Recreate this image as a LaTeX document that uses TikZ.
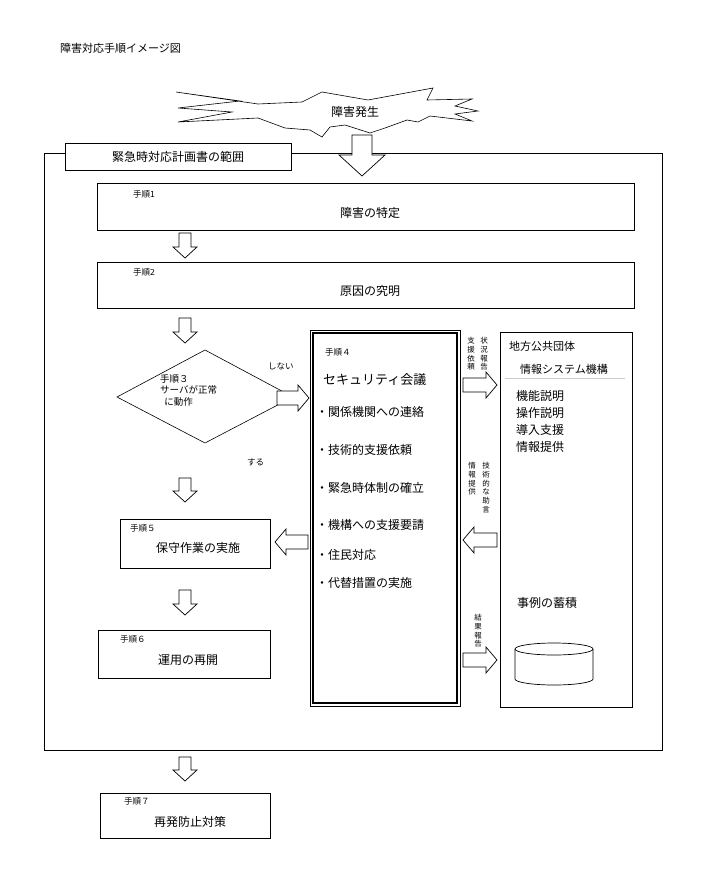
\documentclass[tikz,border=0pt]{standalone}
\usepackage{fontspec}
\setmainfont{Noto Sans CJK JP}
\usetikzlibrary{shapes.geometric,shapes.arrows}
\newcommand\DArr[3]{\draw[blk] (#1-6,#2)--(#1+6,#2)--(#1+6,#3-11)--(#1+12,#3-11)--(#1,#3)--(#1-12,#3-11)--(#1-6,#3-11)--cycle;}
\newcommand\RArr[3]{\draw[blk] (#2,#1-7)--(#3-11,#1-7)--(#3-11,#1-13)--(#3,#1)--(#3-11,#1+13)--(#3-11,#1+7)--(#2,#1+7)--cycle;}
\newcommand\LArr[3]{\draw[blk] (#2,#1-7)--(#3+11,#1-7)--(#3+11,#1-13)--(#3,#1)--(#3+11,#1+13)--(#3+11,#1+7)--(#2,#1+7)--cycle;}
\begin{document}
\begin{tikzpicture}[x=1pt,y=-1pt,
  box/.style={draw,line width=0.6pt},
  blk/.style={draw,line width=0.7pt,fill=white},
  sm/.style={font=\fontsize{8.5}{10}\selectfont,anchor=west,inner sep=0},
  md/.style={font=\fontsize{12}{14}\selectfont,inner sep=0},
  vt/.style={font=\fontsize{7.5}{8.8}\selectfont,inner sep=0,anchor=north,align=center}]
\useasboundingbox (0,0) rectangle (713,880);
\node[sm,font=\fontsize{11}{13}\selectfont] (title) at (60,48) {障害対応手順イメージ図};
% outer frame
\draw[box] (44,153) rectangle (662,750);
\draw[box,fill=white] (65,143) rectangle (291,170);
\node[md] (scope) at (178,157) {緊急時対応計画書の範囲};
% starburst
\draw[line width=0.6pt,fill=white] (176,92)--(258,104)--(302,102)--(322,92)--(368,100)--(433,88)--(427,100)--(472,99)--(455,106)--(478,111)--(455,114)--(472,121)--(430,116)--(418,122)--(407,120)--(385,128)--(370,133)--(345,125)--(330,127)--(322,137)--(310,130)--(285,128)--(258,118)--(178,122)--(232,112)--(178,108)--(240,101)--cycle;
\node[md] (hassei) at (355,112) {障害発生};
\draw[blk] (352,135)--(372,135)--(372,155)--(385,155)--(362,176)--(339,155)--(352,155)--cycle;
% step 1,2
\draw[box] (97,183) rectangle (634,230);
\node[sm] (s1) at (133,194) {手順1};
\node[md] (t1) at (370,213) {障害の特定};
\DArr{185}{233}{258}
\draw[box] (97,262) rectangle (634,308);
\node[sm] (s2) at (133,272) {手順2};
\node[md] (t2) at (370,291) {原因の究明};
\DArr{185}{318}{343}
% diamond
\draw[box] (205,350)--(293,397)--(205,443)--(117,397)--cycle;
\node[font=\fontsize{9.5}{11.5}\selectfont,align=left,anchor=west,inner sep=0] (s3) at (160,390) {手順３\\サーバが正常\\\ \ に動作};
\node[sm] (no) at (268,366) {しない};
\node[sm] (yes) at (247,462) {する};
\RArr{398}{277}{309}
\DArr{185}{478}{502}
% step 5
\draw[box] (120,519) rectangle (270,568);
\node[sm] (s5) at (130,528) {手順５};
\node[md] (t5) at (198,548) {保守作業の実施};
\LArr{542}{308}{275}
\DArr{185}{590}{615}
% step 6
\draw[box] (98,630) rectangle (270,678);
\node[sm] (s6) at (120,639) {手順６};
\node[md] (t6) at (188,660) {運用の再開};
% meeting
\draw[line width=0.6pt] (310,330) rectangle (460,706);
\draw[line width=1.1pt] (313,333) rectangle (457,703);
\node[sm] (s4) at (325,352) {手順４};
\node[md,anchor=west,font=\fontsize{13}{15}\selectfont] (t4) at (323,380) {セキュリティ会議};
\foreach \yy/\tt in {412/関係機関への連絡,450/技術的支援依頼,488/緊急時体制の確立,525/機構への支援要請,555/住民対応,583/代替措置の実施}
  \node[md,anchor=west] at (316,\yy) {・\tt};
% arrows between
\RArr{385}{463}{497}
\LArr{540}{497}{463}
\RArr{660}{463}{497}
\node[vt] (v1) at (471,337) {支\\援\\依\\頼};
\node[vt] (v2) at (484,337) {状\\況\\報\\告};
\node[vt] (v3) at (472,462) {情\\報\\提\\供};
\node[vt] (v4) at (486,462) {技\\術\\的\\な\\助\\言};
\node[vt] (v5) at (478,614) {結\\果\\報\\告};
% right box
\draw[box] (500,332) rectangle (632,707);
\node[md,anchor=west,font=\fontsize{11}{13}\selectfont] (org1) at (509,346) {地方公共団体};
\node[md,anchor=west,font=\fontsize{11}{13}\selectfont] (org2) at (520,369) {情報システム機構};
\draw[gray!40] (505,378)--(625,378);
\node[md,anchor=north west,align=left,font=\fontsize{12}{17}\selectfont] (list) at (516,390) {機能説明\\操作説明\\導入支援\\情報提供};
\node[md,anchor=west] (jirei) at (517,603) {事例の蓄積};
\draw[line width=0.7pt] (515,649) -- (515,679) arc[start angle=180,end angle=0,x radius=39,y radius=6] -- (593,649);
\draw[line width=0.7pt] (554,649) ellipse[x radius=39,y radius=6];
% step 7
\DArr{185}{757}{781}
\draw[box] (100,793) rectangle (270,838);
\node[sm] (s7) at (124,801) {手順７};
\node[md] (t7) at (190,822) {再発防止対策};
\end{tikzpicture}
\end{document}
